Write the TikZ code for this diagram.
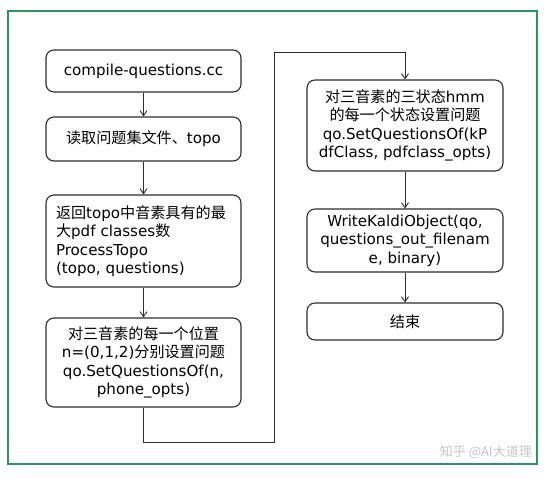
\documentclass[tikz,border=0pt]{standalone}
\usepackage{fontspec}
\setmainfont{DejaVu Sans}
\newfontfamily\cjk{Noto Sans CJK SC}
\usetikzlibrary{arrows.meta}
\definecolor{framegreen}{RGB}{38,150,100}
\definecolor{boxline}{RGB}{45,45,45}
\newcommand{\zh}[1]{{\cjk #1}}
\tikzset{
  flowbox/.style={draw=boxline, line width=1.1pt, rounded corners=8pt,
    minimum width=195pt, inner sep=0pt, font=\fontsize{15.1}{18.5}\selectfont},
  flowarrow/.style={draw=boxline, line width=0.9pt, -{Straight Barb[length=5pt,width=7pt]}},
}
\begin{document}
\begin{tikzpicture}[x=1pt,y=-1pt]
\useasboundingbox (0,0) rectangle (548,477);
\fill[white] (0,0) rectangle (548,477);
\draw[framegreen, line width=2.2pt] (8,11) rectangle (537,464);

\node[flowbox, minimum height=42pt] (b1) at (143.5,71) {compile-questions.cc};
\node[flowbox, minimum height=44pt] (b2) at (143.5,139) {\zh{读取问题集文件、}topo};
\node[flowbox, minimum height=92pt, align=left, text width=175pt] (b3) at (143.5,241)
  {\zh{返回}topo\zh{中音素具有的最}\\\zh{大}pdf classes\zh{数}\\ProcessTopo\\(topo, questions)};
\node[flowbox, minimum height=89pt, align=center] (b4) at (143.5,362.5)
  {\zh{对三音素的每一个位置}\\n=(0,1,2)\zh{分别设置问题}\\qo.SetQuestionsOf(n,\\phone\_opts)};
\node[flowbox, minimum height=91pt, minimum width=196pt, align=center] (b5) at (405,125.5)
  {\zh{对三音素的三状态}hmm\\\zh{的每一个状态设置问题}\\qo.SetQuestionsOf(kP\\dfClass, pdfclass\_opts)};
\node[flowbox, minimum height=63pt, minimum width=196pt, align=center] (b6) at (405,240.5)
  {WriteKaldiObject(qo,\\questions\_out\_filenam\\e, binary)};
\node[flowbox, minimum height=37pt, minimum width=196pt] (b7) at (405,321.5) {\zh{结束}};

\coordinate (c1) at (143.5,442);
\coordinate (c2) at (274.5,442);
\coordinate (c3) at (274.5,52);
\coordinate (c4) at (405,52);

\draw[flowarrow] (b1) -- (b2);
\draw[flowarrow] (b2) -- (b3);
\draw[flowarrow] (b3) -- (b4);
\draw[flowarrow] (b4.south) -- (c1) -- (c2) -- (c3) -- (c4) -- (b5.north);
\draw[flowarrow] (b5) -- (b6);
\draw[flowarrow] (b6) -- (b7);

\node[text=gray!45, font=\cjk\fontsize{13}{15}\selectfont, anchor=east, inner sep=0pt] (wm) at (532,452) {知乎 @AI大道理};
\end{tikzpicture}
\end{document}
